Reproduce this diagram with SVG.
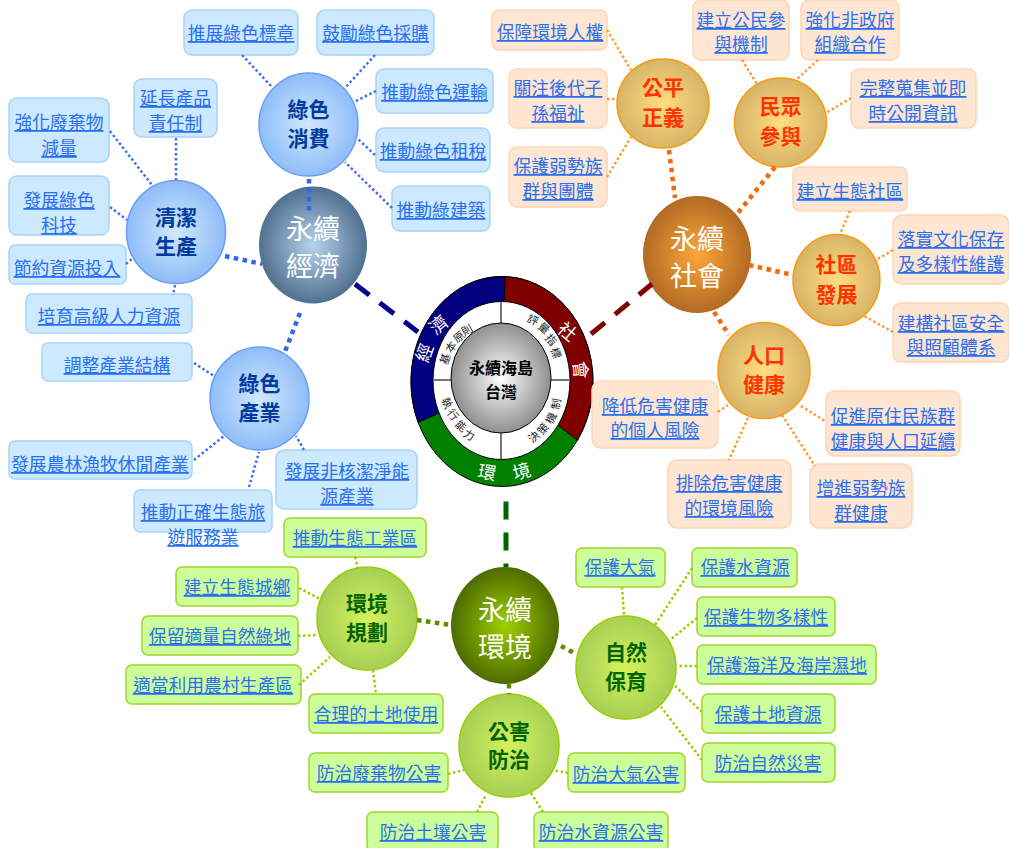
<svg xmlns="http://www.w3.org/2000/svg" width="1009" height="848" viewBox="0 0 1009 848">
<style>
text{font-family:"Noto Sans CJK TC","Noto Sans CJK SC",sans-serif;text-anchor:middle}
.l{font-size:17.8px;fill:#2a6ff0;text-decoration:underline}
.bb{fill:#cce9ff;stroke:#a8d3fa;stroke-width:1.5}
.bo{fill:#ffe6d2;stroke:#fcd6b4;stroke-width:1.5}
.bg{fill:#ccff99;stroke:#a2d42a;stroke-width:1.5}
.nb,.no,.ng{font-size:21px;font-weight:700}
.nb{fill:#003a9e}.no{fill:#ff3300}.ng{fill:#006400}
.m{font-size:27px;fill:#fff}
.c{fill:none}
.tb{stroke:#3f6ff5;stroke-width:2.5;stroke-dasharray:2.5 2.5}
.to{stroke:#ff9a33;stroke-width:2.5;stroke-dasharray:2.5 2.5}
.tg{stroke:#9ccc00;stroke-width:2.5;stroke-dasharray:2.5 2.5}
.Tb{stroke:#3366ee;stroke-width:4.5;stroke-dasharray:4.5 4.5}
.To{stroke:#f06a10;stroke-width:4.5;stroke-dasharray:4.5 4.5}
.Tg{stroke:#5f8a00;stroke-width:4.5;stroke-dasharray:4.5 4.5}
.r1{font-size:18px;fill:#fff}
.r2{font-size:11px;fill:#222}
.d{stroke-width:5;stroke-dasharray:18 13}
</style>
<defs>
<radialGradient id="gb"><stop offset="0" stop-color="#d0e8ff"/><stop offset="1" stop-color="#8fbdf8"/></radialGradient>
<radialGradient id="go"><stop offset="0" stop-color="#ffdd80"/><stop offset="1" stop-color="#d8b468"/></radialGradient>
<radialGradient id="gg"><stop offset="0" stop-color="#d6f25c"/><stop offset="1" stop-color="#a6cf55"/></radialGradient>
<radialGradient id="Gb"><stop offset="0" stop-color="#b8d2ee"/><stop offset="1" stop-color="#50708f"/></radialGradient>
<radialGradient id="Go"><stop offset="0" stop-color="#fba838"/><stop offset="1" stop-color="#b26a24"/></radialGradient>
<radialGradient id="Gg"><stop offset="0" stop-color="#9fd000"/><stop offset="1" stop-color="#4c6c00"/></radialGradient>
<radialGradient id="gc"><stop offset="0" stop-color="#ffffff"/><stop offset="1" stop-color="#8f8f8f"/></radialGradient>
</defs>

<g id="wheel">
<ellipse cx="502" cy="381.500" rx="91" ry="105" fill="#007f00" stroke="#000" stroke-width="1"/>
<path d="M505 276.600A91 105 0 0 0 418.200 422.400L439 413L502 381Z" fill="#000080" stroke="#000"/>
<path d="M505 276.600A91 105 0 0 1 577.400 440.300L557.700 425L502 381Z" fill="#800000" stroke="#000"/>
<ellipse cx="501.500" cy="380.500" rx="68.500" ry="79" fill="#fff" stroke="#000"/>
<path d="M501 302V459M433 380H570" stroke="#777" stroke-width="2" fill="none"/>
<ellipse cx="501" cy="378" rx="50" ry="55" fill="url(#gc)" stroke="#000" stroke-width="1"/>
<text x="501" y="374" font-size="16" font-weight="700" fill="#000">永續海島</text>
<text x="501" y="398" font-size="16" font-weight="700" fill="#000">台灣</text>
<text class="r1" transform="translate(425 353) rotate(-70)" y="6">經</text>
<text class="r1" transform="translate(439 325) rotate(-40)" y="6">濟</text>
<text class="r1" transform="translate(567 332) rotate(40)" y="6">社</text>
<text class="r1" transform="translate(580 370) rotate(85)" y="6">會</text>
<text class="r1" transform="translate(487 473) rotate(10)" y="6">環</text>
<text class="r1" transform="translate(522 472) rotate(-15)" y="6">境</text>
<text class="r2" transform="translate(445 359) rotate(-70)" y="4">基</text>
<text class="r2" transform="translate(451 347) rotate(-55)" y="4">本</text>
<text class="r2" transform="translate(459 337) rotate(-40)" y="4">原</text>
<text class="r2" transform="translate(467 330) rotate(-30)" y="4">則</text>
<text class="r2" transform="translate(533 320) rotate(25)" y="4">評</text>
<text class="r2" transform="translate(544 328) rotate(40)" y="4">量</text>
<text class="r2" transform="translate(551 340) rotate(50)" y="4">指</text>
<text class="r2" transform="translate(556 353) rotate(70)" y="4">標</text>
<text class="r2" transform="translate(534 437) rotate(-40)" y="4">決</text>
<text class="r2" transform="translate(543 429) rotate(-50)" y="4">策</text>
<text class="r2" transform="translate(551 418) rotate(-65)" y="4">機</text>
<text class="r2" transform="translate(556 404) rotate(-80)" y="4">制</text>
<text class="r2" transform="translate(447 403) rotate(65)" y="4">執</text>
<text class="r2" transform="translate(453 415) rotate(50)" y="4">行</text>
<text class="r2" transform="translate(461 426) rotate(40)" y="4">能</text>
<text class="r2" transform="translate(469 435) rotate(30)" y="4">力</text>
</g>

<g id="main-economy"><ellipse cx="313" cy="245" rx="54" ry="58.500" fill="url(#Gb)"/><text class="m" x="313" y="239">永續</text><text class="m" x="313" y="276">經濟</text></g>
<g id="main-society"><ellipse cx="697" cy="254.500" rx="54" ry="58.500" fill="url(#Go)"/><text class="m" x="697" y="249">永續</text><text class="m" x="697" y="286">社會</text></g>
<g id="main-environment"><ellipse cx="505" cy="625.500" rx="54" ry="58.500" fill="url(#Gg)"/><text class="m" x="505" y="620">永續</text><text class="m" x="505" y="657">環境</text></g>

<g id="sub-green-consumption"><ellipse cx="308.500" cy="124.500" rx="49.500" ry="51.500" fill="url(#gb)" stroke="#6b9cf5" stroke-width="1.500"/><text class="nb" x="308.500" y="117">綠色</text><text class="nb" x="308.500" y="146">消費</text></g>
<g id="sub-clean-production"><ellipse cx="176" cy="232" rx="49.500" ry="51.500" fill="url(#gb)" stroke="#6b9cf5" stroke-width="1.500"/><text class="nb" x="176" y="225">清潔</text><text class="nb" x="176" y="254">生產</text></g>
<g id="sub-green-industry"><ellipse cx="259.500" cy="398.500" rx="49.500" ry="51.500" fill="url(#gb)" stroke="#6b9cf5" stroke-width="1.500"/><text class="nb" x="259.500" y="391">綠色</text><text class="nb" x="259.500" y="420">產業</text></g>
<g id="sub-justice"><ellipse cx="663" cy="103.500" rx="46" ry="44.500" fill="url(#go)" stroke="#f79a12" stroke-width="1.500"/><text class="no" x="663" y="95">公平</text><text class="no" x="663" y="125">正義</text></g>
<g id="sub-participation"><ellipse cx="780.500" cy="122.500" rx="46" ry="44.500" fill="url(#go)" stroke="#f79a12" stroke-width="1.500"/><text class="no" x="780.500" y="114">民眾</text><text class="no" x="780.500" y="144">參與</text></g>
<g id="sub-community"><ellipse cx="836.500" cy="280" rx="43.500" ry="45.500" fill="url(#go)" stroke="#f79a12" stroke-width="1.500"/><text class="no" x="836.500" y="272">社區</text><text class="no" x="836.500" y="302">發展</text></g>
<g id="sub-health"><ellipse cx="764" cy="370.500" rx="46" ry="48" fill="url(#go)" stroke="#f79a12" stroke-width="1.500"/><text class="no" x="764" y="363">人口</text><text class="no" x="764" y="392">健康</text></g>
<g id="sub-planning"><ellipse cx="367" cy="618.500" rx="50" ry="51.500" fill="url(#gg)" stroke="#9ccc00" stroke-width="1.500"/><text class="ng" x="367" y="611">環境</text><text class="ng" x="367" y="640">規劃</text></g>
<g id="sub-conservation"><ellipse cx="626" cy="667.500" rx="50" ry="51.500" fill="url(#gg)" stroke="#9ccc00" stroke-width="1.500"/><text class="ng" x="626" y="660">自然</text><text class="ng" x="626" y="689">保育</text></g>
<g id="sub-pollution"><ellipse cx="509" cy="745.500" rx="50" ry="51.500" fill="url(#gg)" stroke="#9ccc00" stroke-width="1.500"/><text class="ng" x="509" y="739">公害</text><text class="ng" x="509" y="767">防治</text></g>

<g id="leaf-b1"><rect class="bb" x="184" y="10" width="114" height="45" rx="8"/><text class="l" x="241" y="40">推展綠色標章</text></g>
<g id="leaf-b2"><rect class="bb" x="317" y="10" width="117" height="45" rx="8"/><text class="l" x="375.500" y="40">鼓勵綠色採購</text></g>
<g id="leaf-b3"><rect class="bb" x="376" y="69" width="117" height="44" rx="8"/><text class="l" x="434.500" y="99">推動綠色運輸</text></g>
<g id="leaf-b4"><rect class="bb" x="376" y="128" width="114" height="44" rx="8"/><text class="l" x="433" y="158">推動綠色租稅</text></g>
<g id="leaf-b5"><rect class="bb" x="392" y="186" width="98" height="45" rx="8"/><text class="l" x="441" y="217">推動綠建築</text></g>
<g id="leaf-b6"><rect class="bb" x="134" y="79" width="83" height="58" rx="8"/><text class="l" x="175.500" y="105">延長產品</text><text class="l" x="175.500" y="130">責任制</text></g>
<g id="leaf-b7"><rect class="bb" x="9" y="98" width="100" height="64" rx="8"/><text class="l" x="59" y="129">強化廢棄物</text><text class="l" x="59" y="155">減量</text></g>
<g id="leaf-b8"><rect class="bb" x="9" y="176" width="100" height="59" rx="8"/><text class="l" x="59" y="207">發展綠色</text><text class="l" x="59" y="232">科技</text></g>
<g id="leaf-b9"><rect class="bb" x="9" y="245" width="117" height="39" rx="6"/><text class="l" x="67" y="275">節約資源投入</text></g>
<g id="leaf-b10"><rect class="bb" x="26" y="294" width="166" height="39" rx="6"/><text class="l" x="109" y="323">培育高級人力資源</text></g>
<g id="leaf-b11"><rect class="bb" x="42" y="343" width="150" height="38" rx="6"/><text class="l" x="117" y="372">調整產業結構</text></g>
<g id="leaf-b12"><rect class="bb" x="9" y="441" width="183" height="38" rx="6"/><text class="l" x="100" y="471">發展農林漁牧休閒產業</text></g>
<g id="leaf-b13"><rect class="bb" x="134" y="490" width="138" height="42" rx="6"/><text class="l" x="203" y="519">推動正確生態旅</text><text class="l" x="203" y="544">遊服務業</text></g>
<g id="leaf-b14"><rect class="bb" x="276" y="450" width="141" height="59" rx="8"/><text class="l" x="347" y="478">發展非核潔淨能</text><text class="l" x="347" y="503">源產業</text></g>

<g id="leaf-o1"><rect class="bo" x="492" y="10" width="115" height="40" rx="7"/><text class="l" x="550" y="39">保障環境人權</text></g>
<g id="leaf-o2"><rect class="bo" x="509" y="69" width="98" height="59" rx="8"/><text class="l" x="558" y="95">關注後代子</text><text class="l" x="558" y="120">孫福祉</text></g>
<g id="leaf-o3"><rect class="bo" x="509" y="147" width="98" height="60" rx="8"/><text class="l" x="558" y="173">保護弱勢族</text><text class="l" x="558" y="198">群與團體</text></g>
<g id="leaf-o4"><rect class="bo" x="693" y="0" width="96" height="60" rx="8"/><text class="l" x="741" y="27">建立公民參</text><text class="l" x="741" y="51">與機制</text></g>
<g id="leaf-o5"><rect class="bo" x="801" y="0" width="98" height="60" rx="8"/><text class="l" x="850" y="27">強化非政府</text><text class="l" x="850" y="51">組織合作</text></g>
<g id="leaf-o6"><rect class="bo" x="851" y="69" width="125" height="59" rx="8"/><text class="l" x="913" y="95">完整蒐集並即</text><text class="l" x="913" y="120">時公開資訊</text></g>
<g id="leaf-o7"><rect class="bo" x="793" y="167" width="114" height="44" rx="7"/><text class="l" x="850" y="198">建立生態社區</text></g>
<g id="leaf-o8"><rect class="bo" x="893" y="215" width="116" height="69" rx="9"/><text class="l" x="951" y="246">落實文化保存</text><text class="l" x="951" y="271">及多樣性維護</text></g>
<g id="leaf-o9"><rect class="bo" x="893" y="303" width="116" height="59" rx="8"/><text class="l" x="951" y="330">建構社區安全</text><text class="l" x="951" y="354">與照顧體系</text></g>
<g id="leaf-o10"><rect class="bo" x="826" y="391" width="134" height="65" rx="9"/><text class="l" x="893" y="423">促進原住民族群</text><text class="l" x="893" y="448">健康與人口延續</text></g>
<g id="leaf-o11"><rect class="bo" x="592" y="381" width="126" height="67" rx="9"/><text class="l" x="655" y="413">降低危害健康</text><text class="l" x="655" y="437">的個人風險</text></g>
<g id="leaf-o12"><rect class="bo" x="668" y="460" width="123" height="68" rx="9"/><text class="l" x="729" y="490">排除危害健康</text><text class="l" x="729" y="515">的環境風險</text></g>
<g id="leaf-o13"><rect class="bo" x="810" y="464" width="102" height="64" rx="9"/><text class="l" x="861" y="495">增進弱勢族</text><text class="l" x="861" y="520">群健康</text></g>

<g id="leaf-g1"><rect class="bg" x="284" y="518" width="142" height="39" rx="6"/><text class="l" x="355" y="545">推動生態工業區</text></g>
<g id="leaf-g2"><rect class="bg" x="176" y="567" width="122" height="39" rx="6"/><text class="l" x="237" y="594">建立生態城鄉</text></g>
<g id="leaf-g3"><rect class="bg" x="142" y="616" width="156" height="39" rx="6"/><text class="l" x="220" y="643">保留適量自然綠地</text></g>
<g id="leaf-g4"><rect class="bg" x="126" y="665" width="175" height="39" rx="6"/><text class="l" x="213" y="692">適當利用農村生產區</text></g>
<g id="leaf-g5"><rect class="bg" x="309" y="694" width="134" height="39" rx="6"/><text class="l" x="376" y="721">合理的土地使用</text></g>
<g id="leaf-g6"><rect class="bg" x="309" y="753" width="139" height="39" rx="6"/><text class="l" x="379" y="780">防治廢棄物公害</text></g>
<g id="leaf-g7"><rect class="bg" x="367" y="812" width="131" height="39" rx="6"/><text class="l" x="433" y="839">防治土壤公害</text></g>
<g id="leaf-g8"><rect class="bg" x="534" y="812" width="134" height="39" rx="6"/><text class="l" x="601" y="839">防治水資源公害</text></g>
<g id="leaf-g9"><rect class="bg" x="568" y="753" width="117" height="39" rx="6"/><text class="l" x="626" y="781">防治大氣公害</text></g>
<g id="leaf-g10"><rect class="bg" x="702" y="743" width="133" height="39" rx="6"/><text class="l" x="768" y="770">防治自然災害</text></g>
<g id="leaf-g11"><rect class="bg" x="702" y="694" width="133" height="39" rx="6"/><text class="l" x="768" y="721">保護土地資源</text></g>
<g id="leaf-g12"><rect class="bg" x="697" y="645" width="179" height="39" rx="6"/><text class="l" x="787" y="672">保護海洋及海岸濕地</text></g>
<g id="leaf-g13"><rect class="bg" x="697" y="597" width="138" height="39" rx="6"/><text class="l" x="766" y="624">保護生物多樣性</text></g>
<g id="leaf-g14"><rect class="bg" x="692" y="548" width="105" height="39" rx="6"/><text class="l" x="745" y="574">保護水資源</text></g>
<g id="leaf-g15"><rect class="bg" x="576" y="548" width="89" height="39" rx="6"/><text class="l" x="620" y="574">保護大氣</text></g>

<g id="connectors" class="c">
<path class="d" d="M355 284L418 332" stroke="#000090"/>
<path class="d" d="M591 334L652 284" stroke="#800000"/>
<path class="d" d="M506 501.500V567" stroke="#006400"/>
<g class="Tb"><path d="M309 179V215"/><path d="M225 256L262 264"/><path d="M300 313L284 354"/></g>
<g class="tb"><path d="M242 55L272 87"/><path d="M375 55L345 88"/><path d="M376 91L354 102"/><path d="M375 155L358 139"/><path d="M392 208L345 162"/><path d="M176 138V180"/><path d="M110 131L152 185"/><path d="M110 207L127 220"/><path d="M126 264L133 258"/><path d="M175 285L173 295"/><path d="M194 363L214 376"/><path d="M194 460L224 436"/><path d="M249 487L259 452"/><path d="M304 450L296 436"/></g>
<g class="To"><path d="M669 150L675 198"/><path d="M775 167L737 214"/><path d="M749 265L793 275"/><path d="M714 312L729 335"/></g>
<g class="to"><path d="M607 30L631 70"/><path d="M607 99H617"/><path d="M607 177L631 137"/><path d="M742 60L757 84"/><path d="M818 60L796 80"/><path d="M851 98L826 113"/><path d="M850 211L840 234"/><path d="M893 250L876 260"/><path d="M893 332L864 316"/><path d="M718 412L728 405"/><path d="M801 406L825 421"/><path d="M782 415L815 466"/><path d="M748 418L729 460"/></g>
<g class="Tg"><path d="M417 620L451 625"/><path d="M561 646L576 654"/><path d="M509 684V694"/></g>
<g class="tg"><path d="M355 557L358 568"/><path d="M299 588L322 600"/><path d="M298 636L317 635"/><path d="M299 685L330 657"/><path d="M373 670L376 694"/><path d="M448 774L464 770"/><path d="M477 812L486 795"/><path d="M543 812L531 793"/><path d="M568 773L552 770"/><path d="M622 587L624 615"/><path d="M692 568L655 625"/><path d="M697 618L670 640"/><path d="M697 666H677"/><path d="M702 712L674 685"/><path d="M702 760L661 707"/></g>
</g>
</svg>
